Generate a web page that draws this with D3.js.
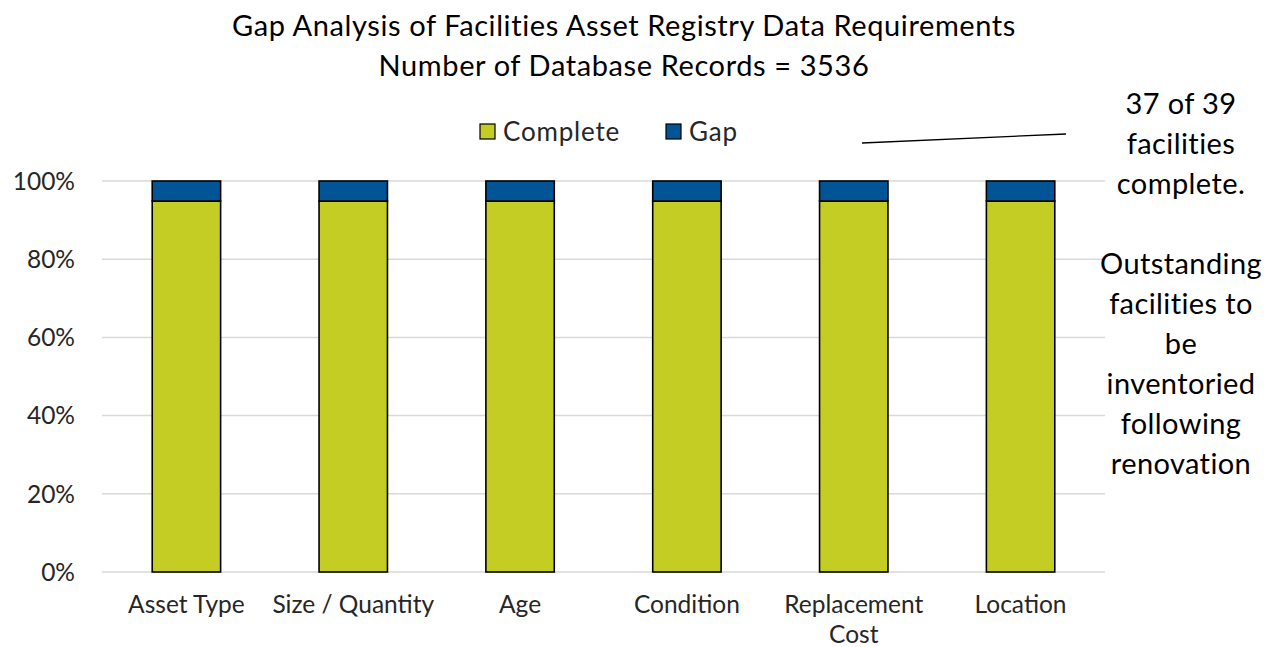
<!DOCTYPE html>
<html>
<head>
<meta charset="utf-8">
<script src="https://cdn.jsdelivr.net/npm/d3@7"></script>
<style>
  body { margin: 0; background: #fff; }
  svg { font-family: Lato, "Open Sans", sans-serif; }
</style>
</head>
<body>
<svg width="1267" height="647"></svg>
<script>
'use strict';

var categories = ['Asset Type', 'Size / Quantity', 'Age', 'Condition', 'Replacement Cost', 'Location'];
var completeValues = [0.9487, 0.9487, 0.9487, 0.9487, 0.9487, 0.9487];
var gapValues = [0.0513, 0.0513, 0.0513, 0.0513, 0.0513, 0.0513];
var seriesNames = ['Complete', 'Gap'];
var yTicks = [0, 0.2, 0.4, 0.6, 0.8, 1.0];
var titleLines = ['Gap Analysis of Facilities Asset Registry Data Requirements', 'Number of Database Records = 3536'];
var noteLines = ['37 of 39', 'facilities', 'complete.', '', 'Outstanding', 'facilities to', 'be', 'inventoried', 'following', 'renovation'];

var colors = { Complete: '#c3cd23', Gap: '#015597' };
var svg = d3.select('svg');
var margin = { left: 103, right: 1104, top: 181, bottom: 572 };

var x = d3.scaleBand()
    .domain(categories)
    .range([margin.left, margin.right])
    .paddingInner(0.59)
    .paddingOuter(0.295);

var y = d3.scaleLinear()
    .domain([0, 1])
    .range([margin.bottom, margin.top]);

// gridlines
svg.append('g')
    .selectAll('line')
    .data(yTicks)
    .enter()
    .append('line')
    .attr('x1', margin.left - 1)
    .attr('x2', margin.right + 1)
    .attr('y1', function (d) { return y(d); })
    .attr('y2', function (d) { return y(d); })
    .attr('stroke', '#d9d9d9')
    .attr('stroke-width', 1.5);

// y labels
svg.append('g')
    .selectAll('text')
    .data(yTicks)
    .enter()
    .append('text')
    .attr('x', 75)
    .attr('y', function (d) { return y(d); })
    .attr('dy', '0.36em')
    .attr('text-anchor', 'end')
    .attr('font-size', 24.5)
    .attr('fill', '#262626')
    .text(function (d) { return Math.round(d * 100) + '%'; });

// stacked bars
var rows = categories.map(function (c, i) {
    return { cat: c, Complete: completeValues[i], Gap: gapValues[i] };
});
var stacked = d3.stack().keys(seriesNames)(rows);

svg.append('g')
    .selectAll('g')
    .data(stacked)
    .enter()
    .append('g')
    .attr('fill', function (d) { return colors[d.key]; })
    .selectAll('rect')
    .data(function (d) { return d; })
    .enter()
    .append('rect')
    .attr('x', function (d) { return x(d.data.cat); })
    .attr('width', x.bandwidth())
    .attr('y', function (d) { return y(d[1]); })
    .attr('height', function (d) { return y(d[0]) - y(d[1]); })
    .attr('stroke', '#000')
    .attr('stroke-width', 1.6);

// x labels
var xLabels = svg.append('g')
    .selectAll('text')
    .data(categories)
    .enter()
    .append('text')
    .attr('x', function (d) { return x(d) + x.bandwidth() / 2; })
    .attr('y', 613)
    .attr('text-anchor', 'middle')
    .attr('font-size', 24.5)
    .attr('fill', '#262626');

xLabels.each(function (d) {
    var words = d === 'Replacement Cost' ? ['Replacement', 'Cost'] : [d];
    var t = d3.select(this);
    words.forEach(function (w, i) {
        t.append('tspan')
            .attr('x', x(d) + x.bandwidth() / 2)
            .attr('dy', i === 0 ? 0 : 30)
            .text(w);
    });
});

// title
svg.append('g')
    .selectAll('text')
    .data(titleLines)
    .enter()
    .append('text')
    .attr('x', 624)
    .attr('y', function (d, i) { return 36 + i * 40; })
    .attr('text-anchor', 'middle')
    .attr('font-size', 29)
    .attr('letter-spacing', 0.6)
    .attr('fill', '#000')
    .text(function (d) { return d; });

// legend
var legendPos = [480, 666];
var legend = svg.append('g')
    .selectAll('g')
    .data(seriesNames)
    .enter()
    .append('g')
    .attr('transform', function (d, i) { return 'translate(' + legendPos[i] + ',124)'; });
legend.append('rect')
    .attr('width', 15)
    .attr('height', 15)
    .attr('fill', function (d) { return colors[d]; })
    .attr('stroke', '#000')
    .attr('stroke-width', 1.2);
legend.append('text')
    .attr('x', 23)
    .attr('y', 8)
    .attr('dy', '0.36em')
    .attr('font-size', 26)
    .attr('letter-spacing', 0.8)
    .attr('fill', '#262626')
    .text(function (d) { return d; });

// annotation
svg.append('line')
    .attr('x1', 862)
    .attr('y1', 143)
    .attr('x2', 1066)
    .attr('y2', 134)
    .attr('stroke', '#000')
    .attr('stroke-width', 1.3);

svg.append('g')
    .selectAll('text')
    .data(noteLines)
    .enter()
    .append('text')
    .attr('x', 1181)
    .attr('y', function (d, i) { return 104 + i * 40; })
    .attr('dy', '0.36em')
    .attr('text-anchor', 'middle')
    .attr('font-size', 29)
    .attr('letter-spacing', 0.4)
    .attr('fill', '#000')
    .text(function (d) { return d; });
</script>
</body>
</html>
